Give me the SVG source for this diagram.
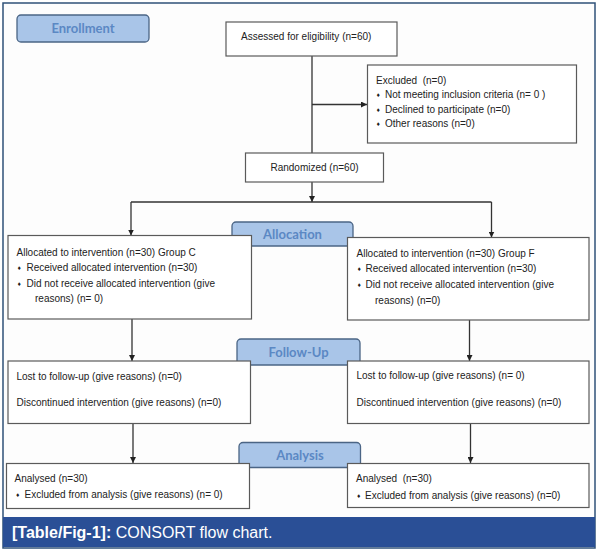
<svg xmlns="http://www.w3.org/2000/svg" width="599" height="550" viewBox="0 0 599 550">
<defs>
<marker id="ah" viewBox="0 0 10 10" refX="10" refY="5" markerWidth="6" markerHeight="6" markerUnits="userSpaceOnUse" orient="auto">
<path d="M0,0 L10,5 L0,10 z" fill="#222"/>
</marker>
<style>
.frame{fill:#fdfdfd;stroke:#2f5178;stroke-width:1.5}
.box{fill:#fff;stroke:#5a5a5a;stroke-width:1.2}
.lab{fill:#a9c5e8;stroke:#4b6585;stroke-width:1.3}
.lt{font-family:Lato,"Open Sans",sans-serif;font-weight:bold;font-size:13px;fill:#5b88c4;text-anchor:middle}
.t{font-family:"Liberation Sans",Arial,sans-serif;font-size:10px;fill:#222}
.b{font-family:"DejaVu Sans",sans-serif;font-size:5px;fill:#222}
.c{fill:none;stroke:#333;stroke-width:1.3}
.cap{font-family:"Liberation Sans",Arial,sans-serif;font-size:16px;fill:#fff}
</style>
</defs>
<rect class="frame" x="3" y="3" width="592" height="545"/>
<rect x="3" y="517" width="592" height="30" fill="#2a4f96"/>
<text class="cap" x="12" y="537.5"><tspan font-weight="bold">[Table/Fig-1]:</tspan> CONSORT flow chart.</text>

<g id="connectors">
<path class="c" d="M312,56 V182"/>
<path class="c" d="M312,104.5 H367" marker-end="url(#ah)"/>
<path class="c" d="M312,182 V202" marker-end="url(#ah)"/>
<path class="c" d="M131,202 H491.5"/>
<path class="c" d="M131,202 V235.5" marker-end="url(#ah)"/>
<path class="c" d="M491.5,202 V237.5" marker-end="url(#ah)"/>
<path class="c" d="M132,319 V361" marker-end="url(#ah)"/>
<path class="c" d="M469.5,320 V361" marker-end="url(#ah)"/>
<path class="c" d="M133,423.5 V463" marker-end="url(#ah)"/>
<path class="c" d="M470.5,423.5 V463" marker-end="url(#ah)"/>
</g>

<g id="enrollment">
<rect class="lab" x="17" y="15" width="132" height="27" rx="4"/>
<text class="lt" x="83" y="33">Enrollment</text>
</g>

<g id="assessed">
<rect class="box" x="226" y="22" width="171" height="34"/>
<text class="t" x="241" y="40" font-size="10.6">Assessed for eligibility (n=60)</text>
</g>

<g id="excluded">
<rect class="box" x="367.5" y="65" width="209" height="78"/>
<text class="t" x="376" y="83.5">Excluded&#160; (n=0)</text>
<text class="b" x="376" y="97">♦</text><text class="t" x="385" y="98">Not meeting inclusion criteria (n= 0 )</text>
<text class="b" x="376" y="111.5">♦</text><text class="t" x="385" y="112.5">Declined to participate (n=0)</text>
<text class="b" x="376" y="126">♦</text><text class="t" x="385" y="127">Other reasons (n=0)</text>
</g>

<g id="randomized">
<rect class="box" x="245.5" y="153" width="138" height="29"/>
<text class="t" x="314.5" y="171" text-anchor="middle">Randomized (n=60)</text>
</g>

<g id="allocation">
<rect class="lab" x="232" y="222" width="121" height="24" rx="4"/>
<text class="lt" x="292.5" y="239">Allocation</text>
</g>

<g id="alloc-c">
<rect class="box" x="8" y="235.5" width="243.5" height="83.5"/>
<text class="t" x="16.5" y="255.5">Allocated to intervention (n=30) Group C</text>
<text class="b" x="17" y="269.5">♦</text><text class="t" x="26.5" y="270.5">Received allocated intervention (n=30)</text>
<text class="b" x="17" y="286">♦</text><text class="t" x="26.5" y="287">Did not receive allocated intervention (give</text>
<text class="t" x="35" y="302">reasons) (n= 0)</text>
</g>

<g id="alloc-f">
<rect class="box" x="347.5" y="237.5" width="241.5" height="82.5"/>
<text class="t" x="356.5" y="256.5">Allocated to intervention (n=30) Group F</text>
<text class="b" x="357" y="271">♦</text><text class="t" x="365.5" y="272">Received allocated intervention (n=30)</text>
<text class="b" x="357" y="287">♦</text><text class="t" x="365.5" y="288">Did not receive allocated intervention (give</text>
<text class="t" x="375" y="303.5">reasons) (n=0)</text>
</g>

<g id="followup">
<rect class="lab" x="237" y="339" width="123" height="26" rx="4"/>
<text class="lt" x="298.5" y="357">Follow-Up</text>
</g>

<g id="follow-c">
<rect class="box" x="8" y="361" width="242.5" height="62.5"/>
<text class="t" x="16.5" y="379.5">Lost to follow-up (give reasons) (n=0)</text>
<text class="t" x="16.5" y="405.5">Discontinued intervention (give reasons) (n=0)</text>
</g>

<g id="follow-f">
<rect class="box" x="347.5" y="361" width="241.5" height="62.5"/>
<text class="t" x="356.5" y="379">Lost to follow-up (give reasons) (n= 0)</text>
<text class="t" x="356.5" y="406">Discontinued intervention (give reasons) (n=0)</text>
</g>

<g id="analysis">
<rect class="lab" x="239" y="442.5" width="121.5" height="25" rx="4"/>
<text class="lt" x="300" y="460">Analysis</text>
</g>

<g id="analysis-c">
<rect class="box" x="6.5" y="463.5" width="243" height="45"/>
<text class="t" x="14.5" y="482">Analysed (n=30)</text>
<text class="b" x="15.5" y="497">♦</text><text class="t" x="24.5" y="498">Excluded from analysis (give reasons) (n= 0)</text>
</g>

<g id="analysis-f">
<rect class="box" x="347.5" y="463.5" width="241.5" height="44"/>
<text class="t" x="356" y="481.5">Analysed&#160; (n=30)</text>
<text class="b" x="356.5" y="498">♦</text><text class="t" x="365" y="499">Excluded from analysis (give reasons) (n=0)</text>
</g>
</svg>
